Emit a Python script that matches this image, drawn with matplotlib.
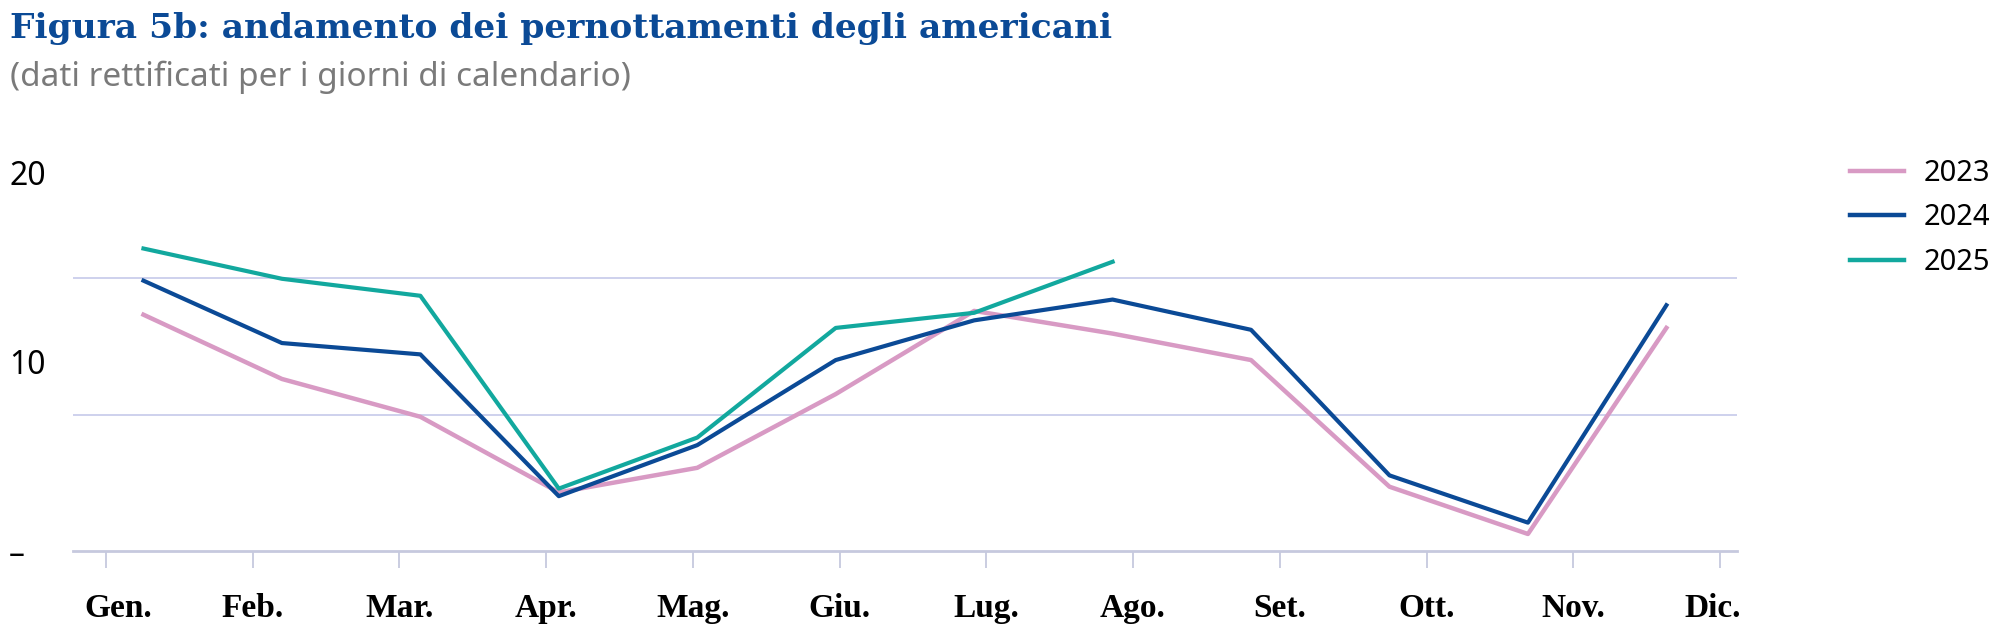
import matplotlib
matplotlib.use('Agg')
import matplotlib.pyplot as plt
import matplotlib.transforms as mtransforms
from matplotlib.lines import Line2D
import numpy as np

## DATA
months = ['Gen.', 'Feb.', 'Mar.', 'Apr.', 'Mag.', 'Giu.', 'Lug.', 'Ago.', 'Set.', 'Ott.', 'Nov.', 'Dic.']
v2023 = [12.5, 9.1, 7.1, 3.1, 4.4, 8.3, 12.7, 11.5, 10.1, 3.4, 0.9, 11.8]
v2024 = [14.3, 11.0, 10.4, 2.9, 5.6, 10.1, 12.2, 13.3, 11.7, 4.0, 1.5, 13.0]
v2025 = [16.0, 14.4, 13.5, 3.3, 6.0, 11.8, 12.6, 15.3]
series_labels = ['2023', '2024', '2025']
ytick_vals = [0, 10, 20]
ytick_labels = ['–', '10', '20']
grid_vals = [7.2, 14.45]

col2023 = '#d89ac4'
col2024 = '#0b4a96'
col2025 = '#12a89e'
gridcol = '#c6c9ea'
axcol = '#c6c9de'

W, H = 2000, 630
fig = plt.figure(figsize=(W/100, H/100), dpi=100)
ax = fig.add_axes([73/W, 1-551/H, (1737-73)/W, (551-154)/H])

x = np.arange(len(months))
for g in grid_vals:
    ax.axhline(g, color=gridcol, lw=1.2, zorder=1)

ax.plot(x, v2023, color=col2023, lw=3.2, zorder=3)
ax.plot(x, v2024, color=col2024, lw=3.0, zorder=4)
ax.plot(x[:len(v2025)], v2025, color=col2025, lw=3.0, zorder=5)

ax.set_xlim(-0.509, 11.51)
ax.set_ylim(0, 21)

for s in ['top', 'right', 'left']:
    ax.spines[s].set_visible(False)
ax.spines['bottom'].set_color(axcol)
ax.spines['bottom'].set_linewidth(2)

# month ticks do not sit on the data points in the original
tick_pos = np.linspace(-0.271, 11.387, len(months))
ax.set_xticks(tick_pos)
ax.set_xticklabels(months, family='Liberation Serif', weight='bold', fontsize=24, color='black')
ax.tick_params(axis='x', length=12.5, width=1.3, color=axcol, pad=18)
labs = ax.get_xticklabels()
labs[0].set_transform(labs[0].get_transform() + mtransforms.ScaledTranslation(12/100, 0, fig.dpi_scale_trans))
labs[-1].set_transform(labs[-1].get_transform() + mtransforms.ScaledTranslation(-7/100, 0, fig.dpi_scale_trans))

ax.set_yticks(ytick_vals)
ax.set_yticklabels(ytick_labels, family='Noto Sans', fontsize=23, color='black', ha='left')
ax.tick_params(axis='y', length=0, pad=46)

fig.text(10/W, 1-38/H, 'Figura 5b: andamento dei pernottamenti degli americani',
         family='DejaVu Serif', weight='bold', fontsize=24.8, color='#0b4a96', va='baseline')
fig.text(10/W, 1-86/H, '(dati rettificati per i giorni di calendario)',
         family='Noto Sans', fontsize=24, color='#7a7a7a', va='baseline')

handles = [Line2D([], [], color=c, lw=3.2) for c in [col2023, col2024, col2025]]
fig.legend(handles, series_labels, loc='upper left', bbox_to_anchor=(1850/W, 1-159/H),
           frameon=False, borderpad=0, borderaxespad=0, handlelength=1.86,
           handletextpad=0.65, labelspacing=0.53, prop={'family': 'Noto Sans', 'size': 21})

fig.savefig('out.png', dpi=100)
